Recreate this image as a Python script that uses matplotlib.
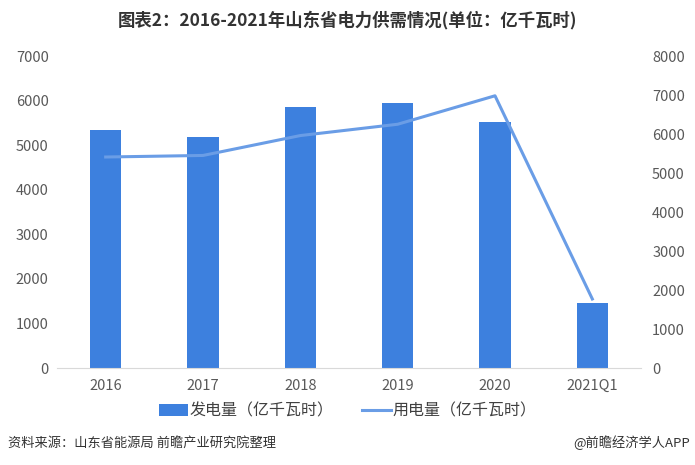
import numpy as np
import matplotlib
matplotlib.use("Agg")
import matplotlib.pyplot as plt

plt.rcParams['font.family'] = ['Noto Sans CJK SC', 'DejaVu Sans']

# data (亿千瓦时)
years = ['2016', '2017', '2018', '2019', '2020', '2021Q1']
generation = [5350, 5180, 5850, 5940, 5530, 1450]
consumption = [5410, 5450, 5960, 6250, 6980, 1770]

BAR_COLOR = '#3D80DE'
LINE_COLOR = '#6A9DE6'
TICK_COLOR = '#595959'

fig = plt.figure(figsize=(6.95, 4.65), dpi=100)
ax = fig.add_axes([57 / 695, 97 / 465, 584 / 695, 312 / 465])
ax2 = ax.twinx()

x = np.arange(len(years))
bars = ax.bar(x, generation, width=0.32, color=BAR_COLOR, label='发电量（亿千瓦时）', zorder=2)
line, = ax2.plot(x, consumption, color=LINE_COLOR, linewidth=2.2, label='用电量（亿千瓦时）', zorder=3)

ax.set_xlim(-0.5, len(years) - 0.5)
ax.set_ylim(0, 7000)
ax.set_yticks(range(0, 7001, 1000))
ax2.set_ylim(0, 8000)
ax2.set_yticks(range(0, 8001, 1000))
ax.set_xticks(x)
ax.set_xticklabels(years)

for a in (ax, ax2):
    for s in a.spines.values():
        s.set_visible(False)
    a.tick_params(length=0, labelsize=10.5, colors=TICK_COLOR)
ax.spines['bottom'].set_visible(True)
ax.spines['bottom'].set_color('#D9D9D9')
ax.tick_params(axis='x', pad=8)
ax.tick_params(axis='y', pad=6)
ax2.tick_params(axis='y', pad=8)

fig.suptitle('图表2：2016-2021年山东省电力供需情况(单位：亿千瓦时)', x=0.5, y=0.978,
             fontsize=12.5, fontweight='bold', color='#333333')

fig.legend(handles=[bars, line], loc='center', bbox_to_anchor=(0.5, (465 - 411) / 465),
           ncol=2, frameon=False, fontsize=11.5, handlelength=1.8, handleheight=0.8,
           columnspacing=1.8, handletextpad=0.1, labelcolor='#404040')

fig.text(8 / 695, (465 - 443) / 465, '资料来源：山东省能源局 前瞻产业研究院整理',
         fontsize=9.5, color='#333333', va='center', ha='left')
fig.text(690 / 695, (465 - 443) / 465, '@前瞻经济学人APP',
         fontsize=9.5, color='#333333', va='center', ha='right')

fig.savefig('out.png', dpi=100)
